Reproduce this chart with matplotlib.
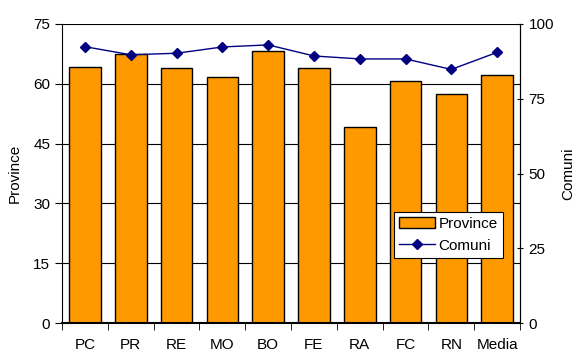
import numpy as np
import matplotlib
matplotlib.use("Agg")
import matplotlib.pyplot as plt

# ---- Dati ----
categorie = ["PC", "PR", "RE", "MO", "BO", "FE", "RA", "FC", "RN", "Media"]
province = [64.3, 67.4, 64.0, 61.7, 68.3, 64.0, 49.2, 60.7, 57.4, 62.3]
comuni = [92.4, 89.7, 90.2, 92.3, 93.0, 89.3, 88.3, 88.3, 84.8, 90.5]

plt.rcParams['font.family'] = ['Liberation Sans', 'DejaVu Sans']
FS = 11

fig = plt.figure(figsize=(5.74, 3.52), dpi=100)
ax = fig.add_axes([0.108, 0.082, 0.798, 0.850])
x = np.arange(len(categorie))

# griglia
ax.set_axisbelow(True)
ax.yaxis.grid(True, color='black', lw=0.8)

barre = ax.bar(x, province, width=0.69, color='#FF9900', edgecolor='black',
               lw=1.0, label='Province', zorder=2)
ax.set_xlim(-0.5, len(categorie) - 0.5)
ax.set_ylim(0, 75)
ax.set_yticks([0, 15, 30, 45, 60, 75])
ax.set_ylabel("Province", fontsize=FS, labelpad=8)

# tick x tra le categorie
ax.set_xticks(x)
ax.set_xticklabels(categorie, fontsize=FS)
ax.tick_params(axis='x', length=0, pad=11)
ax.set_xticks(np.arange(len(categorie) + 1) - 0.5, minor=True)
ax.tick_params(axis='x', which='minor', length=5, direction='out', color='black')
ax.tick_params(axis='y', length=5, direction='out', labelsize=FS)

ax.spines['top'].set_visible(False)
ax.spines['left'].set_color('black')
ax.spines['bottom'].set_linewidth(1.5)

ax2 = ax.twinx()
linea, = ax2.plot(x, comuni, color='#000080', lw=1.0, marker='D', markersize=5,
                  label='Comuni', zorder=3)
ax2.set_ylim(0, 100)
ax2.set_yticks([0, 25, 50, 75, 100])
ax2.tick_params(axis='y', length=5, direction='inout', labelsize=FS)
ax2.set_ylabel("Comuni", fontsize=FS, labelpad=5)
ax2.spines['top'].set_visible(False)
ax2.spines['left'].set_visible(False)
ax2.spines['bottom'].set_visible(False)

leg = ax2.legend([barre, linea], ["Province", "Comuni"], loc='upper left',
                 bbox_to_anchor=(0.725, 0.372), fontsize=FS, frameon=True,
                 fancybox=False, framealpha=1, edgecolor='black',
                 handlelength=2.3, borderpad=0.35, labelspacing=0.5,
                 handletextpad=0.25, borderaxespad=0)
leg.get_frame().set_linewidth(0.8)

fig.savefig("out.png", dpi=100)
